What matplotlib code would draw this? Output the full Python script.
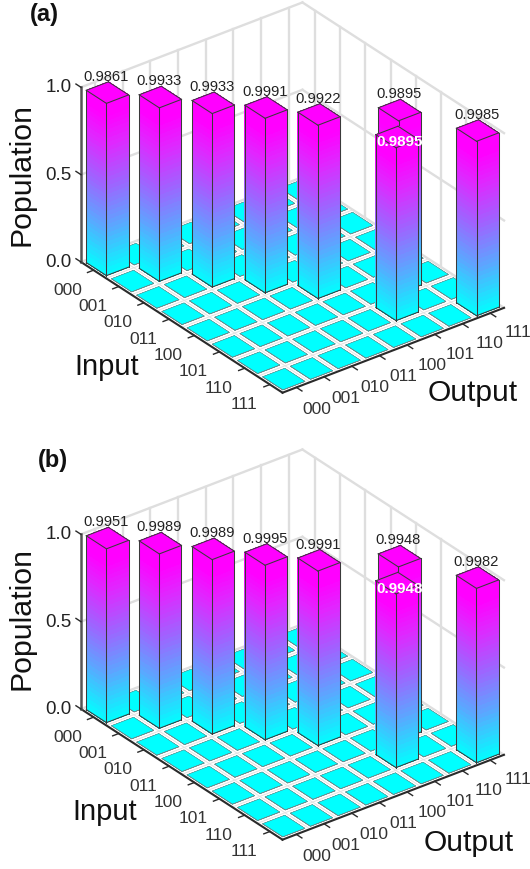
import numpy as np
import matplotlib
matplotlib.use("Agg")
import matplotlib.pyplot as plt
from matplotlib.colors import LinearSegmentedColormap
from mpl_toolkits.mplot3d import proj3d

plt.rcParams['font.family'] = ['Liberation Sans', 'DejaVu Sans']

# gate truth table: which output each input goes to
input_idx = [0, 1, 2, 3, 4, 5, 6, 7]
output_idx = [0, 1, 2, 3, 4, 6, 5, 7]
values_a = [0.9861, 0.9933, 0.9933, 0.9991, 0.9922, 0.9895, 0.9895, 0.9985]
values_b = [0.9951, 0.9989, 0.9989, 0.9995, 0.9991, 0.9948, 0.9948, 0.9982]
basis = ['000', '001', '010', '011', '100', '101', '110', '111']
z_ticks = [0.0, 0.5, 1.0]

W, H = 530, 869
cmap = LinearSegmentedColormap.from_list('pop', [
    (0.0, '#00ffff'), (0.27, '#5aa8ff'), (0.5, '#9a68ff'),
    (0.75, '#df28ff'), (0.92, '#ff00ff'), (1.0, '#ff00ff')])
wall = '#dedede'
edge = '#3a3a3a'
axis_col = '#2a2a2a'
width = 0.8


def project(ax, x, y, z):
    px, py, _ = proj3d.proj_transform(x, y, z, ax.get_proj())
    return ax.transData.transform((px, py))


def place(ax, left_px, right_px):
    # move/scale the square 3D axes so the floor corners land on given pixels
    size = 300.0
    cx, cy = 265.0, 300.0
    for k in range(3):
        ax.set_position([(cx - size / 2) / W, (cy - size / 2) / H, size / W, size / H])
        ax.apply_aspect()
        a = project(ax, 0, 8, 0)
        b = project(ax, 8, 0, 0)
        now = np.hypot(*(b - a))
        want = np.hypot(right_px[0] - left_px[0], right_px[1] - left_px[1])
        size = size * want / now
        ax.set_position([(cx - size / 2) / W, (cy - size / 2) / H, size / W, size / H])
        ax.apply_aspect()
        a = project(ax, 0, 8, 0)
        cx += left_px[0] - a[0]
        cy += (H - left_px[1]) - a[1]
    ax.set_position([(cx - size / 2) / W, (cy - size / 2) / H, size / W, size / H])
    ax.apply_aspect()


def put(ax, x, y, z, s, dx=0, dy=0, **kw):
    # text at a data point, dx/dy in pixels (dy down)
    p = project(ax, x, y, z)
    fig.text((p[0] + dx) / W, (p[1] - dy) / H, s, va='center', **kw)


def draw_bar(ax, x0, y0, top, z):
    x1, y1 = x0 + width, y0 + width
    zz = np.linspace(0, top, 41)
    mids = np.append((zz[:-1] + zz[1:]) / 2, top)
    cols = cmap(mids)
    cols = np.repeat(cols[:, None, :], 2, axis=1)
    kw = dict(rstride=1, cstride=1, shade=False, linewidth=0, antialiased=False, zorder=z)
    # left face and right face
    Y, Z = np.meshgrid([y0, y1], zz)
    ax.plot_surface(np.full_like(Y, x0), Y, Z, facecolors=cols, **kw)
    X, Z = np.meshgrid([x0, x1], zz)
    ax.plot_surface(X, np.full_like(X, y0), Z, facecolors=cols, **kw)
    # top
    X, Y = np.meshgrid([x0, x1], [y0, y1])
    ax.plot_surface(X, Y, np.full_like(X, top), color=cmap(1.0), **kw)
    segs = [([x0, x0], [y1, y1], [0, top]), ([x0, x0], [y0, y0], [0, top]),
            ([x1, x1], [y0, y0], [0, top]), ([x0, x0], [y1, y0], [0, 0]),
            ([x0, x1], [y0, y0], [0, 0]), ([x0, x1], [y0, y0], [top, top]),
            ([x0, x0], [y0, y1], [top, top]), ([x0, x1], [y1, y1], [top, top]),
            ([x1, x1], [y0, y1], [top, top])]
    for sx, sy, sz in segs:
        ax.plot(sx, sy, sz, color=edge, lw=0.75, zorder=z + 0.5)


def panel(values, left_px, right_px):
    ax = fig.add_subplot(projection='3d', proj_type='ortho', computed_zorder=False)
    ax.set_box_aspect((280, 331.5, 202))
    ax.view_init(elev=29.9, azim=232.45)
    ax.set_xlim(0, 8, view_margin=0)
    ax.set_ylim(0, 8, view_margin=0)
    ax.set_zlim(0, 1, view_margin=0)
    ax.set_axis_off()
    ax.patch.set_visible(False)
    place(ax, left_px, right_px)

    # back walls
    for t in np.arange(8) + 0.5:
        ax.plot([t, t], [8, 8], [0, 1], color=wall, lw=1.7, zorder=1)
        ax.plot([8, 8], [t, t], [0, 1], color=wall, lw=1.7, zorder=1)
    for v in z_ticks:
        ax.plot([0, 8], [8, 8], [v, v], color=wall, lw=1.7, zorder=1)
        ax.plot([8, 8], [0, 8], [v, v], color=wall, lw=1.7, zorder=1)

    # faint floor lines showing in the gaps
    for k in range(1, 8):
        ax.plot([k, k], [0, 8], [0, 0], color='#e2e2e2', lw=0.7, zorder=1.5)
        ax.plot([0, 8], [k, k], [0, 0], color='#e2e2e2', lw=0.7, zorder=1.5)

    # floor tiles, one per matrix cell
    pop = np.zeros((8, 8))
    pop[input_idx, output_idx] = values
    ii, oo = np.nonzero(pop == 0)
    ax.bar3d(oo + 0.1, 7 - ii + 0.1, np.zeros(len(ii)), width, width, 0.001,
             color='#00ffff', edgecolor='#6a8a8a', linewidth=0.3, shade=False, zorder=2)

    # axis lines and ticks
    ax.plot([0, 8], [0, 0], [0, 0], color=axis_col, lw=1.5, zorder=3)
    ax.plot([0, 0], [0, 8], [0, 0], color=axis_col, lw=1.5, zorder=3)
    ax.plot([0, 0], [8, 8], [0, 1], color='#555555', lw=1.8, zorder=3)
    for k, lab in enumerate(basis):
        t = k + 0.5
        ax.plot([0, -0.22], [7 - k + 0.5, 7 - k + 0.5], [0, 0], color=axis_col, lw=1.0, zorder=3)
        ax.plot([t, t], [0, -0.22], [0, 0], color=axis_col, lw=1.0, zorder=3)
        put(ax, -1.24, 7 - k + 0.5 - 0.29, 0, lab, dx=1, dy=2, fontsize=12.5, color='#333333', ha='center')
        put(ax, 4 + (t - 4) * 1.036 - 0.11, -1.08, 0, lab, dy=2, fontsize=12.5, color='#333333', ha='center')
    for v in z_ticks:
        ax.plot([0, 0], [8, 8.2], [v, v], color=axis_col, lw=1.0, zorder=3)
        put(ax, 0, 8.36, v - 0.03, '%.1f' % v, dy=1, fontsize=13.5, color='#222222', ha='right')

    # bars back to front
    order = np.argsort([input_idx[k] - output_idx[k] for k in range(8)])
    for n, k in enumerate(order):
        x0 = output_idx[k] + 0.1
        y0 = 7 - input_idx[k] + 0.1
        draw_bar(ax, x0, y0, values[k], 5 + n)

    # value labels; the front bar of the swapped pair carries a white one
    for k in range(8):
        xc = output_idx[k] + 0.5
        yc = 7 - input_idx[k] + 0.5
        if input_idx[k] - output_idx[k] == 1:
            put(ax, xc, yc, values[k] - 0.02, '%.4f' % values[k], dx=3, dy=2, fontsize=10.9,
                color='white', fontweight='bold', ha='center')
        else:
            put(ax, xc, yc, values[k] + 0.09, '%.4f' % values[k], dx=-1, fontsize=10.6,
                color='#222222', ha='center')
    return ax


def label(x, y, s, **kw):
    fig.text(x / W, 1 - y / H, s, ha='center', va='center', color='#111111', **kw)


fig = plt.figure(figsize=(W / 100, H / 100), dpi=100)

panel(values_a, (81, 262), (504, 308))
panel(values_b, (81, 709), (504, 754))

label(44, 15, '(a)', fontsize=17, fontweight='bold')
label(53, 461, '(b)', fontsize=17, fontweight='bold')
label(21, 174, 'Population', fontsize=21.8, rotation=90)
label(22, 618, 'Population', fontsize=21.8, rotation=90)
label(107, 367, 'Input', fontsize=21)
label(105, 812, 'Input', fontsize=21)
label(473, 393, 'Output', fontsize=21.6)
label(469, 843, 'Output', fontsize=21.6)

fig.savefig('out.png', dpi=100)
